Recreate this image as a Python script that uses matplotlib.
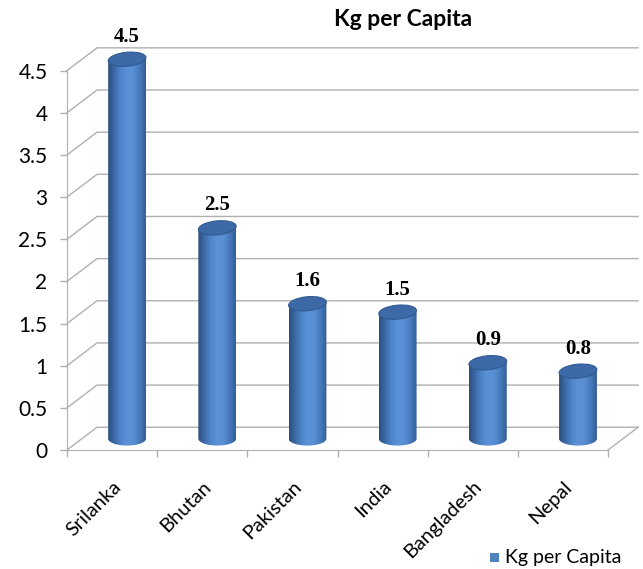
import numpy as np
import matplotlib
matplotlib.use("Agg")
import matplotlib.pyplot as plt
from matplotlib.patches import Ellipse, PathPatch, Rectangle
from matplotlib.path import Path

countries = ["Srilanka", "Bhutan", "Pakistan", "India", "Bangladesh", "Nepal"]
kg_per_capita = [4.5, 2.5, 1.6, 1.5, 0.9, 0.8]
y_ticks = [0, 0.5, 1, 1.5, 2, 2.5, 3, 3.5, 4, 4.5]
title = "Kg per Capita"
series_name = "Kg per Capita"

# 3d look: depth offset of the back wall, in data units
DX, DY = 0.333, 0.27
BAR_W = 0.42
ELL_H = 0.165
GRID = "#b0b0b0"

plt.rcParams["font.family"] = ["Lato", "DejaVu Sans"]

fig = plt.figure(figsize=(6.43, 5.69), dpi=100)
ax = fig.add_axes([67 / 643, 119 / 569, 572 / 643, 403 / 569])
ax.set_xlim(-0.5, 5.5 + DX + 0.01)
ax.set_ylim(0, 4.5 + DY + 0.01)

# back wall / side wall grid
for y in y_ticks:
    ax.plot([-0.5, -0.5 + DX, 5.5 + DX], [y, y + DY, y + DY],
            color=GRID, lw=1, zorder=1, clip_on=False)
ax.plot([5.5, 5.5 + DX], [0, DY], color=GRID, lw=1, zorder=1, clip_on=False)

for s in ["top", "right"]:
    ax.spines[s].set_visible(False)
ax.spines["left"].set_bounds(0, 4.5)
ax.spines["bottom"].set_bounds(-0.5, 5.5)
for s in ["left", "bottom"]:
    ax.spines[s].set_color(GRID)

ax.set_yticks(y_ticks)
ax.set_yticklabels([f"{v:g}" for v in y_ticks], fontsize=15)
ax.set_xticks(np.arange(-0.5, 6, 1))
ax.set_xticklabels([])
ax.set_xticks(np.arange(len(countries)), minor=True)
ax.set_xticklabels(countries, minor=True, rotation=45, ha="right",
                   rotation_mode="anchor", fontsize=14.5)
ax.tick_params(axis="both", which="major", color=GRID, length=5, width=1)
ax.tick_params(axis="x", which="minor", length=0, pad=20)
ax.tick_params(axis="y", pad=9)

# cylinder gradient (left dark -> highlight -> right dark)
grad = np.array([
    [0.17, 0.31, 0.49], [0.24, 0.42, 0.66], [0.31, 0.52, 0.79],
    [0.36, 0.57, 0.84], [0.35, 0.56, 0.83], [0.28, 0.48, 0.74],
    [0.20, 0.37, 0.59],
])
xs = np.linspace(0, 1, 64)
img = np.stack([np.interp(xs, np.linspace(0, 1, len(grad)), grad[:, c])
                for c in range(3)], axis=-1)[None, :, :]

for i, v in enumerate(kg_per_capita):
    cx = i + DX / 2
    base = DY / 2
    top = v + DY / 2
    t = np.linspace(np.pi, 2 * np.pi, 40)
    arc = np.column_stack([cx + BAR_W / 2 * np.cos(t),
                           base + ELL_H / 2 * np.sin(t)])
    verts = np.vstack([[cx - BAR_W / 2, top], arc, [cx + BAR_W / 2, top],
                       [cx - BAR_W / 2, top]])
    body = Path(verts, closed=True)
    patch = PathPatch(body, facecolor="none", edgecolor="none", zorder=3)
    ax.add_patch(patch)
    im = ax.imshow(img, extent=[cx - BAR_W / 2, cx + BAR_W / 2,
                                base - ELL_H, top], aspect="auto",
                   zorder=3, interpolation="bicubic")
    im.set_clip_path(patch)
    ax.add_patch(Ellipse((cx, top), BAR_W, ELL_H, angle=6,
                         facecolor="#3d6aa6", edgecolor="#2f5a92",
                         lw=0.8, zorder=4))
    ax.text(cx, top + 0.15, f"{v:g}", ha="center", va="bottom",
            fontsize=15, fontweight="bold", family="Liberation Serif",
            zorder=5)

ax.set_xlim(-0.5, 5.5 + DX + 0.01)
ax.set_ylim(0, 4.5 + DY + 0.01)

fig.text(403 / 643, 1 - 19 / 569, title, ha="center", va="center",
         fontsize=16.5, fontweight="bold")

# legend
fig.patches.append(Rectangle((490 / 643, 1 - 562 / 569), 9 / 643, 9 / 569,
                             transform=fig.transFigure, facecolor="#4f81bd",
                             edgecolor="none"))
fig.text(505 / 643, 1 - 557 / 569, series_name, ha="left", va="center",
         fontsize=14)

fig.savefig("out.png", dpi=100)
